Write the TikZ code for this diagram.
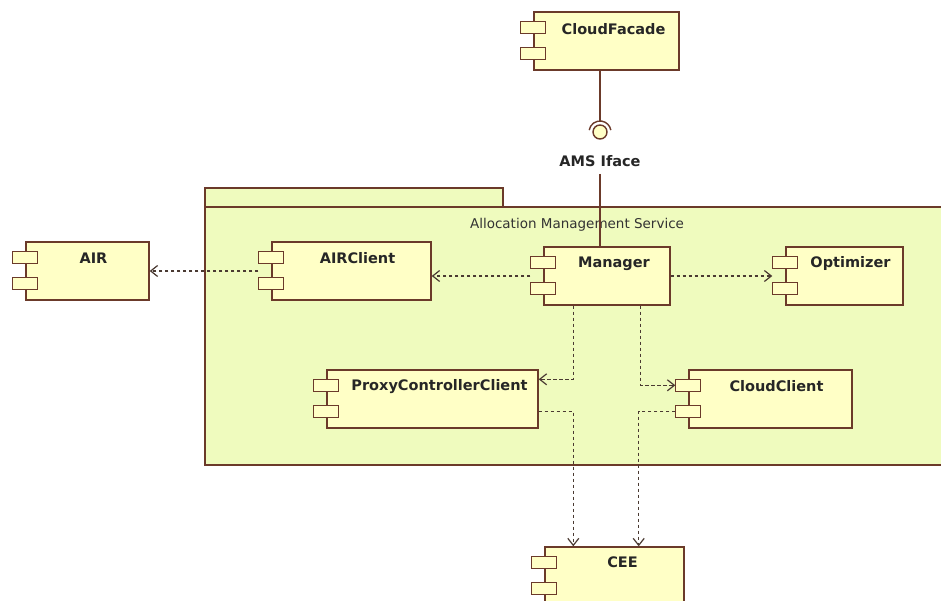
\documentclass[tikz,border=0pt]{standalone}
\usepackage{fontspec}
\setmainfont{DejaVu Sans}
\usetikzlibrary{arrows.meta, calc}

\definecolor{umlline}{HTML}{6B3A2A}
\definecolor{compfill}{HTML}{FFFFC6}
\definecolor{pkgfill}{HTML}{EFFBBE}
\definecolor{depline}{HTML}{4A3A32}

% two small port boxes on the left edge of a component
\newcommand{\compports}[1]{%
  \draw[port] ($(#1.north west)+(-13,10)$) rectangle ++(25,12);
  \draw[port] ($(#1.north west)+(-13,36)$) rectangle ++(25,12);}

\begin{document}
\begin{tikzpicture}[x=1pt, y=-1pt,
    comp/.style={rectangle, draw=umlline, fill=compfill, line width=1.4pt, minimum height=58, inner sep=0pt},
    port/.style={draw=umlline, fill=compfill, line width=1.4pt},
    comptext/.style={font=\bfseries\fontsize{14.5}{17}\selectfont, text=black!85, inner sep=0pt},
    pkg/.style={rectangle, draw=umlline, fill=pkgfill, line width=1.4pt, inner sep=0pt},
    dep/.style={draw=depline, line width=1.2pt, dash pattern=on 3.5pt off 2.5pt, -{Straight Barb[length=7pt, width=11pt]}},
    link/.style={draw=umlline, line width=1.4pt}]

  \useasboundingbox (0,0) rectangle (941,601);
  \clip (0,0) rectangle (941,601);
  \fill[white] (0,0) rectangle (941,601);

  % package
  \node[pkg, minimum width=298, minimum height=19] (amstab) at (354,197.5) {};
  \node[pkg, minimum width=745, minimum height=258] (ams) at (577.5,336) {};
  \node[font=\fontsize{13.5}{16}\selectfont, text=black!80] (amslbl) at (577,225) {Allocation Management Service};

  % components
  \node[comp, minimum width=145] (cloudfacade) at (606.5,41) {};
  \compports{cloudfacade}
  \node[comptext] (cloudfacadelbl) at ($(cloudfacade.north)+(7,18)$) {CloudFacade};

  \node[comp, minimum width=123] (air) at (87.5,271) {};
  \compports{air}
  \node[comptext] (airlbl) at ($(air.north)+(6,17)$) {AIR};

  \node[comp, minimum width=159] (airclient) at (351.5,271) {};
  \compports{airclient}
  \node[comptext] (airclientlbl) at ($(airclient.north)+(6,17)$) {AIRClient};

  \node[comp, minimum width=126] (manager) at (607,276) {};
  \compports{manager}
  \node[comptext] (managerlbl) at ($(manager.north)+(7,17)$) {Manager};

  \node[comp, minimum width=117] (optimizer) at (844.5,276) {};
  \compports{optimizer}
  \node[comptext] (optimizerlbl) at ($(optimizer.north)+(6,17)$) {Optimizer};

  \node[comp, minimum width=211] (proxyclient) at (432.5,399) {};
  \compports{proxyclient}
  \node[comptext] (proxyclientlbl) at ($(proxyclient.north)+(7,17)$) {ProxyControllerClient};

  \node[comp, minimum width=163] (cloudclient) at (770.5,399) {};
  \compports{cloudclient}
  \node[comptext] (cloudclientlbl) at ($(cloudclient.north)+(6,17)$) {CloudClient};

  \node[comp, minimum width=139] (cee) at (614.5,576) {};
  \compports{cee}
  \node[comptext] (ceelbl) at ($(cee.north)+(8,16)$) {CEE};

  % provided / required interface
  \node[circle, draw=umlline, fill=compfill, line width=1.4pt, minimum size=14, inner sep=0pt] (amsball) at (600,132) {};
  \draw[link] (amsball.center) ++(190:11) arc[start angle=190, end angle=350, radius=11];
  \draw[link] (cloudfacade.south -| amsball) -- ($(amsball.center)+(0,-11)$);
  \node[comptext] (amsiface) at (600,161) {AMS Iface};
  \draw[link] ([yshift=-7pt]amsiface.south) -- (manager.north -| amsiface);

  % dependencies
  \draw[dep] ($(airclient.west)+(-13,0)$) -- (air.east);
  \draw[dep] ($(manager.west)+(-13,0)$) -- (airclient.east |- manager.west);
  \draw[dep] (manager.east) -- ($(optimizer.west)+(-13,0)$);
  \draw[dep] ($(manager.south west)+(30,0)$) |- ($(proxyclient.north east)+(0,10)$);
  \draw[dep] ($(manager.south east)+(-30,0)$) |- ($(cloudclient.north west)+(-13,16)$);
  \draw[dep] ($(proxyclient.north east)+(0,42)$) -| ($(cee.north west)+(29,0)$);
  \draw[dep] ($(cloudclient.north west)+(-13,42)$) -| ($(cee.north east)+(-46,0)$);
\end{tikzpicture}
\end{document}
